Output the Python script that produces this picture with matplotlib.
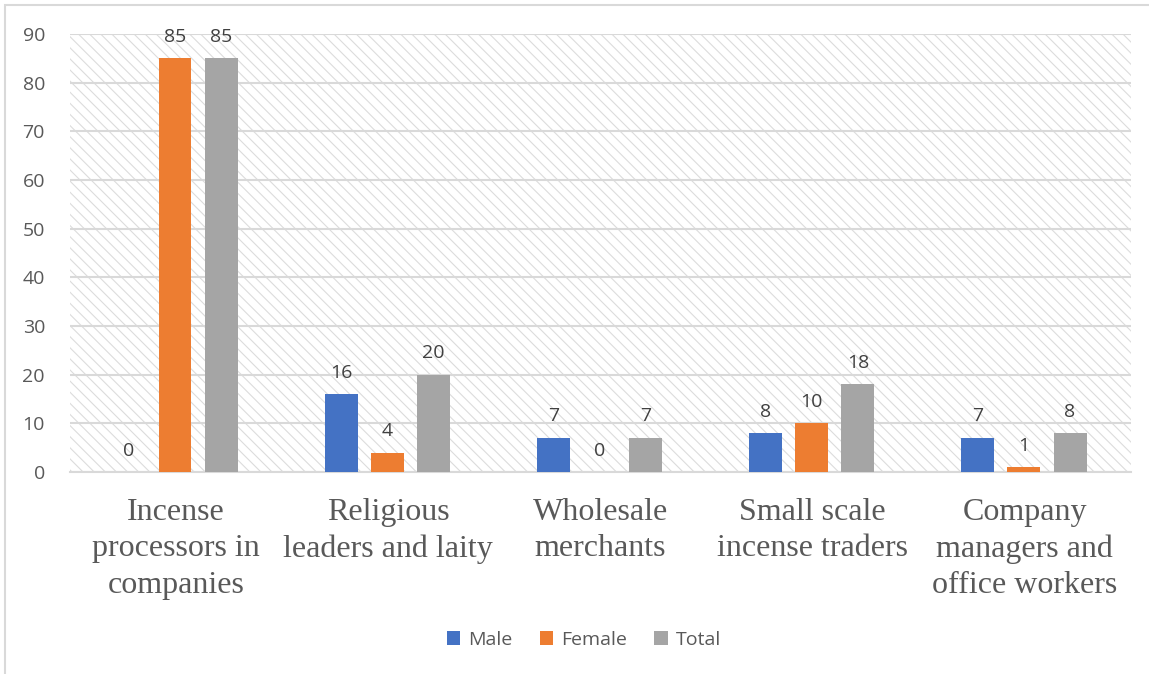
import matplotlib.pyplot as plt
import numpy as np
from matplotlib.patches import Rectangle

categories = ["Incense\nprocessors in\ncompanies", "Religious\nleaders and laity",
              "Wholesale\nmerchants", "Small scale\nincense traders",
              "Company\nmanagers and\noffice workers"]
male = [0, 16, 7, 8, 7]
female = [85, 4, 0, 10, 1]
total = [85, 20, 7, 18, 8]

series = [("Male", male, "#4472C4"), ("Female", female, "#ED7D31"), ("Total", total, "#A5A5A5")]

plt.rcParams['hatch.color'] = '#dcdcdc'
plt.rcParams['hatch.linewidth'] = 0.8

fig = plt.figure(figsize=(11.49, 6.74), dpi=100)
ax = fig.add_axes([0.0609, 0.2997, 0.9234, 0.6499])

# hatched plot background
bg = Rectangle((0, 0), 1, 1, transform=ax.transAxes, facecolor='white',
               edgecolor='#dcdcdc', hatch='\\\\\\', linewidth=0, zorder=0)
ax.add_patch(bg)

x = np.arange(len(categories))
offsets = [-0.222, -0.005, 0.213]
for (name, vals, col), off in zip(series, offsets):
    bars = ax.bar(x + off, vals, 0.155, color=col, label=name, zorder=3)
    ax.bar_label(bars, labels=[str(v) for v in vals], padding=9, fontsize=14,
                 color='#404040', family='Open Sans')

ax.set_xlim(-0.5, len(categories) - 0.5)
ax.set_ylim(0, 90)
ax.set_yticks(range(0, 91, 10))
ax.yaxis.grid(True, color='#d9d9d9', linewidth=1.5, zorder=1)
ax.set_axisbelow(True)
for s in ['top', 'right', 'left']:
    ax.spines[s].set_visible(False)
ax.spines['bottom'].set_color('#d9d9d9')
ax.spines['bottom'].set_linewidth(1.5)
ax.tick_params(axis='y', length=0, pad=18, labelsize=14, labelcolor='#595959')
ax.tick_params(axis='x', length=0, pad=18.5)
for t in ax.get_yticklabels():
    t.set_family('Open Sans')
ax.set_xticks(x)
ax.set_xticklabels(categories, fontsize=23, family='Liberation Serif', color='#595959',
                   linespacing=1.34, va='top')

leg = fig.legend(loc='center', bbox_to_anchor=(0.508, 0.051), ncol=3, frameon=False,
                 fontsize=14, handlelength=0.7, handleheight=0.7, columnspacing=1.4,
                 handletextpad=0.4)
for t in leg.get_texts():
    t.set_color('#595959')
    t.set_family('Open Sans')

# chart border
fig.patches.append(Rectangle((5 / 1149, -0.1), 1.2, 1 - 5 / 674 + 0.1, transform=fig.transFigure,
                             fill=False, edgecolor='#d9d9d9', linewidth=1.5))

fig.savefig('out.png', dpi=100)
